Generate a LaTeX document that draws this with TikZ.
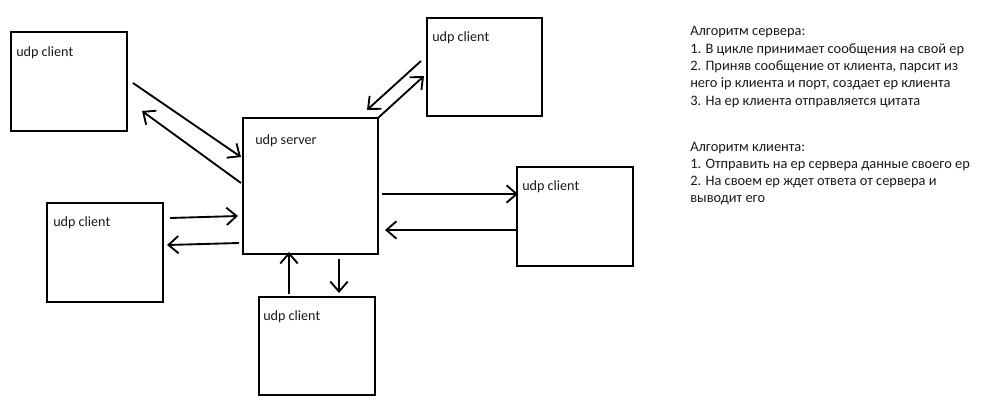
\documentclass[tikz,border=0pt]{standalone}
\usepackage{fontspec}
\setmainfont{Carlito}
\usetikzlibrary{arrows.meta}
\begin{document}
\begin{tikzpicture}[x=0.75pt,y=-0.75pt,
  box/.style={draw, line width=1.5pt, rectangle, inner sep=0pt},
  lbl/.style={anchor=base west, inner sep=0pt, font=\fontsize{10.6pt}{13pt}\selectfont, text=black!90},
  txt/.style={anchor=base west, inner sep=0pt, font=\fontsize{10.8pt}{13pt}\selectfont, text=black!90},
  arr/.style={line width=1.4pt, -{Straight Barb[length=7.5pt,width=13pt,line width=1.4pt]}}]
\useasboundingbox (0,0) rectangle (1002,414);
% boxes
\node[box, minimum width=87pt, minimum height=74.25pt] (tl) at (69,81.5) {};
\node[box, minimum width=86.25pt, minimum height=73.5pt] (tr) at (484.5,67) {};
\node[box, minimum width=101.25pt, minimum height=102pt] (srv) at (310.5,186) {};
\node[box, minimum width=87pt, minimum height=74.25pt] (lb) at (105,252.5) {};
\node[box, minimum width=87pt, minimum height=74.25pt] (rc) at (575,216.5) {};
\node[box, minimum width=87pt, minimum height=73.5pt] (bc) at (317,346) {};
% labels
\node[lbl] (ltl) at (16,56) {udp client};
\node[lbl] (ltr) at (432,41) {udp client};
\node[lbl] (lsrv) at (255,144) {udp server};
\node[lbl] (llb) at (53,226) {udp client};
\node[lbl] (lrc) at (522,190) {udp client};
\node[lbl] (lbc) at (263,320) {udp client};
% arrow ends
\coordinate (a1s) at (133,83);  \coordinate (a1e) at (241,157);
\coordinate (a2s) at (241,183); \coordinate (a2e) at (142,111);
\coordinate (a3s) at (421,61);  \coordinate (a3e) at (367,110);
\coordinate (a4s) at (378,118); \coordinate (a4e) at (424,76);
\coordinate (a5s) at (382,194); \coordinate (a5e) at (518,194);
\coordinate (a6s) at (517,230); \coordinate (a6e) at (385,230);
\coordinate (a7s) at (170,218); \coordinate (a7e) at (238,216);
\coordinate (a8s) at (239,243); \coordinate (a8e) at (167,245);
\coordinate (a9s) at (289,294); \coordinate (a9e) at (289,252);
\coordinate (a10s) at (339,259); \coordinate (a10e) at (339,293);
\draw[arr] (a1s) -- (a1e);
\draw[arr] (a2s) -- (a2e);
\draw[arr] (a3s) -- (a3e);
\draw[arr] (a4s) -- (a4e);
\draw[arr] (a5s) -- (a5e);
\draw[arr] (a6s) -- (a6e);
\draw[arr] (a7s) -- (a7e);
\draw[arr] (a8s) -- (a8e);
\draw[arr] (a9s) -- (a9e);
\draw[arr] (a10s) -- (a10e);
% text
\node[txt] (t1) at (690,36) {Алгоритм сервера:};
\node[txt] (t2) at (690,53.3) {1. В цикле принимает сообщения на свой ер};
\node[txt] (t3) at (690,70.6) {2. Приняв сообщение от клиента, парсит из};
\node[txt] (t4) at (690,87.9) {него ip клиента и порт, создает ер клиента};
\node[txt] (t5) at (690,105.2) {3. На ер клиента отправляется цитата};
\node[txt] (t6) at (690,151) {Алгоритм клиента:};
\node[txt] (t7) at (690,168.3) {1. Отправить на ер сервера данные своего ер};
\node[txt] (t8) at (690,185.6) {2. На своем ер ждет ответа от сервера и};
\node[txt] (t9) at (690,202.9) {выводит его};
\end{tikzpicture}
\end{document}
